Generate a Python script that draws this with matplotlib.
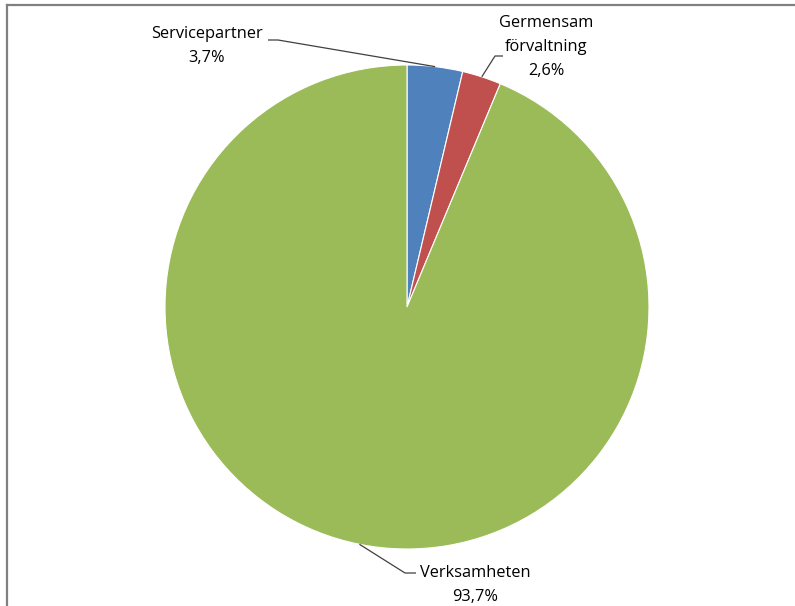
import numpy as np
import matplotlib
matplotlib.use("Agg")
import matplotlib.pyplot as plt
from matplotlib.lines import Line2D

categories = ["Servicepartner", "Germensam\nförvaltning", "Verksamheten"]
values = [3.7, 2.6, 93.7]
pct_labels = ["3,7%", "2,6%", "93,7%"]
colors = ["#4F81BD", "#C0504D", "#9BBB59"]

W, H = 795, 606
fig = plt.figure(figsize=(W / 100, H / 100), dpi=100)
ax = fig.add_axes([0, 0, 1, 1])

cx, cy, r = 407, H - 307, 242
wedges, _ = ax.pie(values, colors=colors, startangle=90, counterclock=False,
                   center=(cx, cy), radius=r, frame=True,
                   wedgeprops=dict(edgecolor="white", linewidth=0.8))
ax.set_xlim(0, W)
ax.set_ylim(0, H)
ax.set_aspect("equal")
ax.axis("off")

font = dict(family="Open Sans", fontsize=11.8, color="#000000")

def edge_point(w):
    ang = np.deg2rad((w.theta1 + w.theta2) / 2)
    return cx + r * np.cos(ang), cy + r * np.sin(ang)

lab = [
    dict(text=f"{categories[0]}\n{pct_labels[0]}", xy=(207, 46),
         path=[(278, 40), (268, 40)]),
    dict(text=f"{categories[1]}\n{pct_labels[1]}", xy=(546, 47),
         path=[(495, 56), (503, 56)]),
    dict(text=f"{categories[2]}\n{pct_labels[2]}", xy=(475, 585),
         path=[(405, 573), (416, 573)]),
]
for w, l in zip(wedges, lab):
    ex, ey = edge_point(w)
    xs = [ex] + [p[0] for p in l["path"]]
    ys = [ey] + [H - p[1] for p in l["path"]]
    ax.plot(xs, ys, color="#404040", lw=0.9, solid_capstyle="butt")
    ax.text(l["xy"][0], H - l["xy"][1], l["text"], ha="center", va="center",
            linespacing=1.65, **font)

fig.add_artist(Line2D([6.5 / W, 6.5 / W], [0, 1 - 5 / H], transform=fig.transFigure,
                      color="#808080", lw=1.6))
fig.add_artist(Line2D([6.5 / W, 1], [1 - 5 / H, 1 - 5 / H], transform=fig.transFigure,
                      color="#808080", lw=1.6))

fig.savefig("out.png", dpi=100)
